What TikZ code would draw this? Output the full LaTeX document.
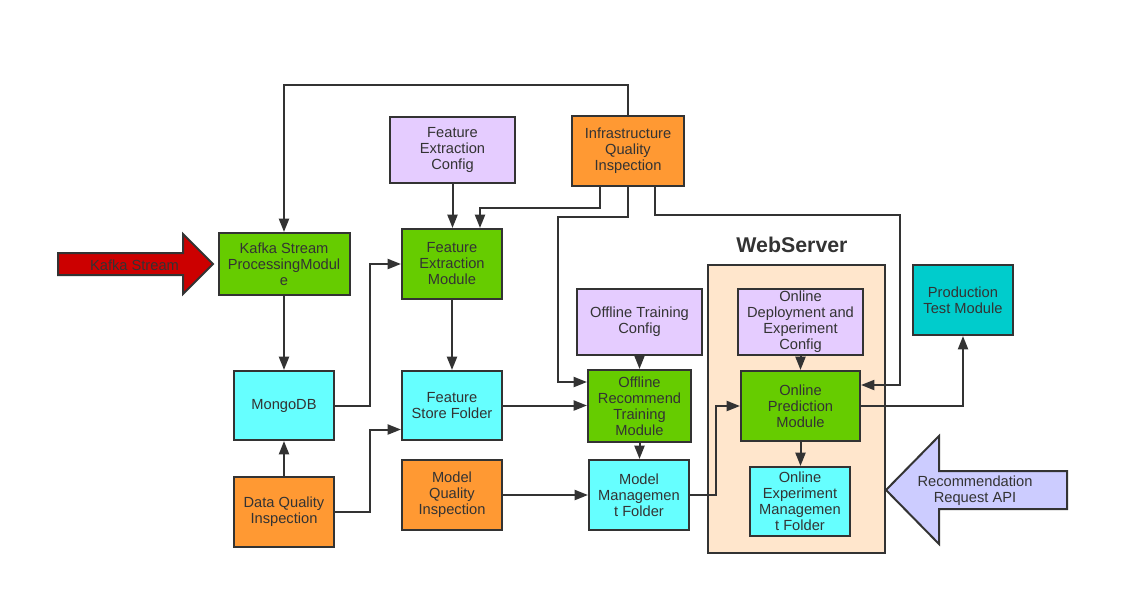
\documentclass[tikz,border=0pt]{standalone}
\usepackage{fontspec}
\setmainfont{Liberation Sans}
\usetikzlibrary{arrows.meta,calc}
\definecolor{linegray}{HTML}{333333}
\definecolor{modgreen}{HTML}{66CC00}
\definecolor{cfglilac}{HTML}{E5CCFF}
\definecolor{qorange}{HTML}{FF9933}
\definecolor{foldcyan}{HTML}{66FFFF}
\definecolor{prodteal}{HTML}{00CCCC}
\definecolor{webpeach}{HTML}{FFE6CC}
\definecolor{kafkared}{HTML}{CC0000}
\definecolor{apiblue}{HTML}{CCCCFF}
\begin{document}
\begin{tikzpicture}[x=0.75pt,y=-0.75pt,
  box/.style={draw=linegray, line width=1.5pt, text=linegray, align=center,
    font=\fontsize{11}{12}\selectfont, inner sep=0pt,
    minimum width=75pt, minimum height=52.5pt},
  conn/.style={draw=linegray, line width=1.5pt, -{Triangle[length=10pt,width=7.5pt]}},
  bigarrow/.style={draw=linegray, line width=1.5pt}]
\useasboundingbox (0,0) rectangle (1129,615);

% web server frame
\node[box, fill=webpeach, minimum width=132.75pt, minimum height=216pt](web) at (796.5,409) {};
\node[text=linegray, font=\bfseries\fontsize{16}{18}\selectfont](weblbl) at (792,245) {WebServer};

% input arrows
\draw[bigarrow, fill=kafkared] (58,253) -- (183,253) -- (183,234) -- (213,264) -- (183,294) -- (183,275) -- (58,275) -- cycle;
\node[text=linegray, font=\fontsize{11}{12}\selectfont](kstream) at (134.5,265) {Kafka Stream};
\draw[bigarrow, fill=apiblue] (886,490) -- (939,436) -- (939,471) -- (1067,471) -- (1067,509) -- (939,509) -- (939,544) -- cycle;
\node[text=linegray, align=center, font=\fontsize{11}{12}\selectfont](reqapi) at (975,491) {Recommendation\\Request API};

% boxes
\node[box, fill=modgreen, minimum width=98.25pt, minimum height=46.5pt](kafka) at (284,264) {Kafka Stream\\ProcessingModul\\e};
\node[box, fill=cfglilac, minimum width=93.75pt, minimum height=49.5pt](fec) at (452.5,150) {Feature\\Extraction\\Config};
\node[box, fill=qorange, minimum width=84pt](iqi) at (628,151) {Infrastructure\\Quality\\Inspection};
\node[box, fill=modgreen](fem) at (452,264) {Feature\\Extraction\\Module};
\node[box, fill=foldcyan, minimum height=51.75pt](mongo) at (284,405.5) {MongoDB};
\node[box, fill=foldcyan, minimum height=51.75pt](fsf) at (452,405.5) {Feature\\Store Folder};
\node[box, fill=qorange](dqi) at (284,512) {Data Quality\\Inspection};
\node[box, fill=qorange](mqi) at (452,495) {Model\\Quality\\Inspection};
\node[box, fill=cfglilac, minimum width=93.75pt, minimum height=49.5pt](otc) at (639.5,322) {Offline Training\\Config};
\node[box, fill=modgreen, minimum width=77.25pt, minimum height=54pt](ortm) at (639.5,406) {Offline\\Recommend\\Training\\Module};
\node[box, fill=foldcyan](mmf) at (639,495) {Model\\Managemen\\t Folder};
\node[box, fill=cfglilac, minimum width=93.75pt, minimum height=49.5pt](odec) at (800.5,322) {Online\\Deployment and\\Experiment\\Config};
\node[box, fill=modgreen, minimum width=89.25pt](opm) at (800.5,406) {Online\\Prediction\\Module};
\node[box, fill=foldcyan, minimum height=51.75pt](oemf) at (800,501.5) {Online\\Experiment\\Managemen\\t Folder};
\node[box, fill=prodteal](ptm) at (963,300) {Production\\Test Module};

% connectors
\draw[conn] (iqi.north) -- ++(0,-30) -| (kafka.north);
\draw[conn] (fec.south) -- (fec.south |- fem.north);
\draw[conn] ($(iqi.south)+(-28,0)$) -- ++(0,21) -| ($(fem.north)+(28,0)$);
\draw[conn] (iqi.south) -- ++(0,30) -- ++(-70,0) |- ($(ortm.west)+(0,-24)$);
\draw[conn] ($(iqi.south)+(27,0)$) -- ++(0,28) -- ++(245,0) |- ($(opm.east)+(0,-21)$);
\draw[conn] (kafka.south) -- (mongo.north);
\draw[conn] (mongo.east) -- ++(35,0) |- (fem.west);
\draw[conn] (fem.south) -- (fsf.north);
\draw[conn] (dqi.north) -- (mongo.south);
\draw[conn] (dqi.east) -- ++(35,0) |- ($(fsf.west)+(0,24)$);
\draw[conn] (fsf.east) -- (fsf.east -| ortm.west);
\draw[conn] (mqi.east) -- (mqi.east -| mmf.west);
\draw[conn] (otc.south) -- (ortm.north);
\draw[conn] (ortm.south) -- (ortm.south |- mmf.north);
\draw[conn] (mmf.east) -- ++(26,0) |- (opm.west);
\draw[conn] (odec.south) -- (opm.north);
\draw[conn] (opm.south) -- (opm.south |- oemf.north);
\draw[conn] (opm.east) -| (ptm.south);
\end{tikzpicture}
\end{document}
